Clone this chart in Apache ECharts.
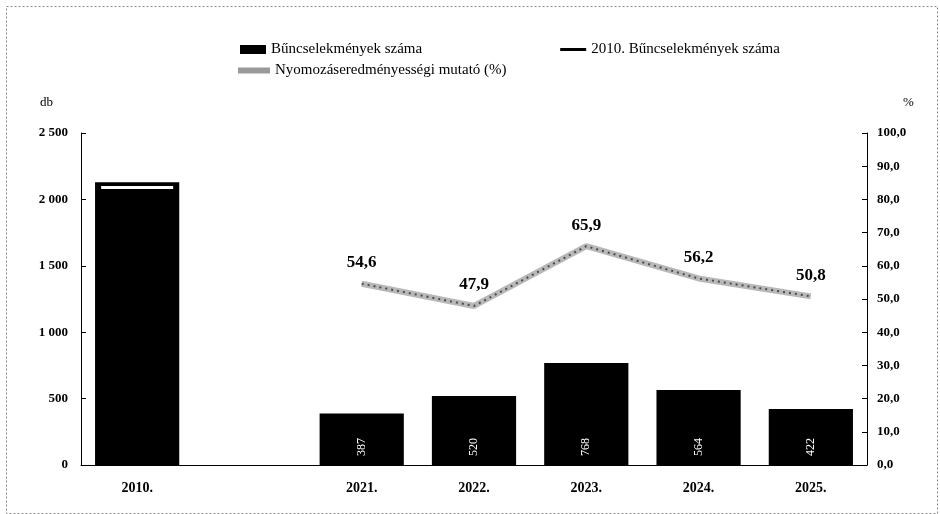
<!DOCTYPE html>
<html>
<head>
<meta charset="utf-8">
<script src="https://cdn.jsdelivr.net/npm/echarts@6/dist/echarts.min.js"></script>
<style>
  html, body { margin: 0; padding: 0; background: #fff; }
  #chart { width: 940px; height: 514px; }
</style>
</head>
<body>
<div id="chart"></div>
<script>
// categories and values
const years = ['2010.', '', '2021.', '2022.', '2023.', '2024.', '2025.'];
const crimes = [2130, null, 387, 520, 768, 564, 422];
const crimes2010 = [2090, null, null, null, null, null, null];
const clearance = [null, null, 54.6, 47.9, 65.9, 56.2, 50.8];
const dbTicks = [0, 500, 1000, 1500, 2000, 2500];
const pctTicks = [0, 10, 20, 30, 40, 50, 60, 70, 80, 90, 100];

const serif = '"Liberation Serif", "DejaVu Serif", serif';
const comma = v => v.toFixed(1).replace('.', ',');
const thousands = v => String(v).replace(/\B(?=(\d{3})+(?!\d))/g, ' ');

const chart = echarts.init(document.getElementById('chart'));

const option = {
  backgroundColor: '#fff',
  animation: false,
  textStyle: { fontFamily: serif, color: '#000' },
  graphic: [{
    type: 'rect', left: 4, top: 4,
    shape: { width: 931, height: 507 },
    style: { fill: 'none', stroke: '#888', lineWidth: 1, lineDash: [2, 2] }
  }],
  legend: [
    {
      left: 235, top: 37,
      itemWidth: 26, itemHeight: 9, itemGap: 138,
      textStyle: { fontFamily: serif, fontSize: 15, color: '#000' },
      data: [
        { name: 'Bűncselekmények száma', icon: 'rect' },
        { name: '2010. Bűncselekmények száma', icon: 'path://M0,3 L26,3 L26,6 L0,6 Z', itemStyle: { color: '#000' } }
      ]
    },
    {
      left: 233, top: 58,
      itemWidth: 32, itemHeight: 6,
      textStyle: { fontFamily: serif, fontSize: 15, color: '#000' },
      data: [{ name: 'Nyomozáseredményességi mutató (%)', icon: 'rect', itemStyle: { color: '#9a9a9a' } }]
    }
  ],
  grid: { left: 81, right: 73, top: 133, bottom: 49 },
  xAxis: {
    type: 'category',
    data: years,
    axisLine: { lineStyle: { color: '#000', width: 1 } },
    axisTick: { show: false },
    axisLabel: { fontFamily: serif, fontSize: 14, fontWeight: 'bold', color: '#000', margin: 16 }
  },
  yAxis: [
    {
      type: 'value',
      min: dbTicks[0], max: dbTicks[dbTicks.length - 1], interval: 500,
      name: 'db', nameLocation: 'end', nameGap: 24,
      nameTextStyle: { fontFamily: serif, fontSize: 13, color: '#000', align: 'right', padding: [0, 28, 0, 0] },
      axisLine: { show: true, lineStyle: { color: '#000' } },
      axisTick: { show: true, inside: true, length: 5, lineStyle: { color: '#000' } },
      splitLine: { show: false },
      axisLabel: { fontFamily: serif, fontSize: 13, fontWeight: 'bold', color: '#000', margin: 13, formatter: thousands }
    },
    {
      type: 'value',
      min: pctTicks[0], max: pctTicks[pctTicks.length - 1], interval: 10,
      name: '%', nameLocation: 'end', nameGap: 24,
      nameTextStyle: { fontFamily: serif, fontSize: 13, color: '#000', align: 'left', padding: [0, 0, 0, 36] },
      axisLine: { show: true, lineStyle: { color: '#000' } },
      axisTick: { show: true, inside: true, length: 5, lineStyle: { color: '#000' } },
      splitLine: { show: false },
      axisLabel: { fontFamily: serif, fontSize: 13, fontWeight: 'bold', color: '#000', margin: 10, formatter: comma }
    }
  ],
  series: [
    {
      name: 'Bűncselekmények száma',
      type: 'bar',
      data: crimes,
      barWidth: '75%',
      itemStyle: { color: '#000' },
      label: {
        show: true,
        position: 'insideBottom',
        rotate: 90,
        align: 'left',
        verticalAlign: 'middle',
        distance: 9,
        fontFamily: serif,
        fontSize: 12,
        color: '#fff',
        formatter: p => (p.dataIndex === 0 ? '' : p.value)
      }
    },
    {
      name: '2010. Bűncselekmények száma',
      type: 'line',
      data: crimes2010,
      symbol: 'rect',
      symbolSize: [72, 3],
      itemStyle: { color: '#fff' },
      lineStyle: { color: '#000', width: 3 },
      z: 5
    },
    {
      name: 'Nyomozáseredményességi mutató (%)',
      type: 'line',
      yAxisIndex: 1,
      data: clearance,
      symbol: 'circle',
      symbolSize: 1,
      itemStyle: { color: 'rgba(0,0,0,0)' },
      lineStyle: { color: '#b8b8b8', width: 6 },
      label: {
        show: true,
        position: 'top',
        distance: 12,
        fontFamily: serif,
        fontSize: 17,
        fontWeight: 'bold',
        color: '#000',
        formatter: p => comma(p.value)
      },
      z: 3
    },
    {
      name: 'mutató textúra',
      type: 'line',
      yAxisIndex: 1,
      data: clearance,
      symbol: 'none',
      lineStyle: { color: '#4a4a4a', width: 2, type: [2, 4] },
      z: 4
    }
  ]
};

chart.setOption(option);
</script>
</body>
</html>
